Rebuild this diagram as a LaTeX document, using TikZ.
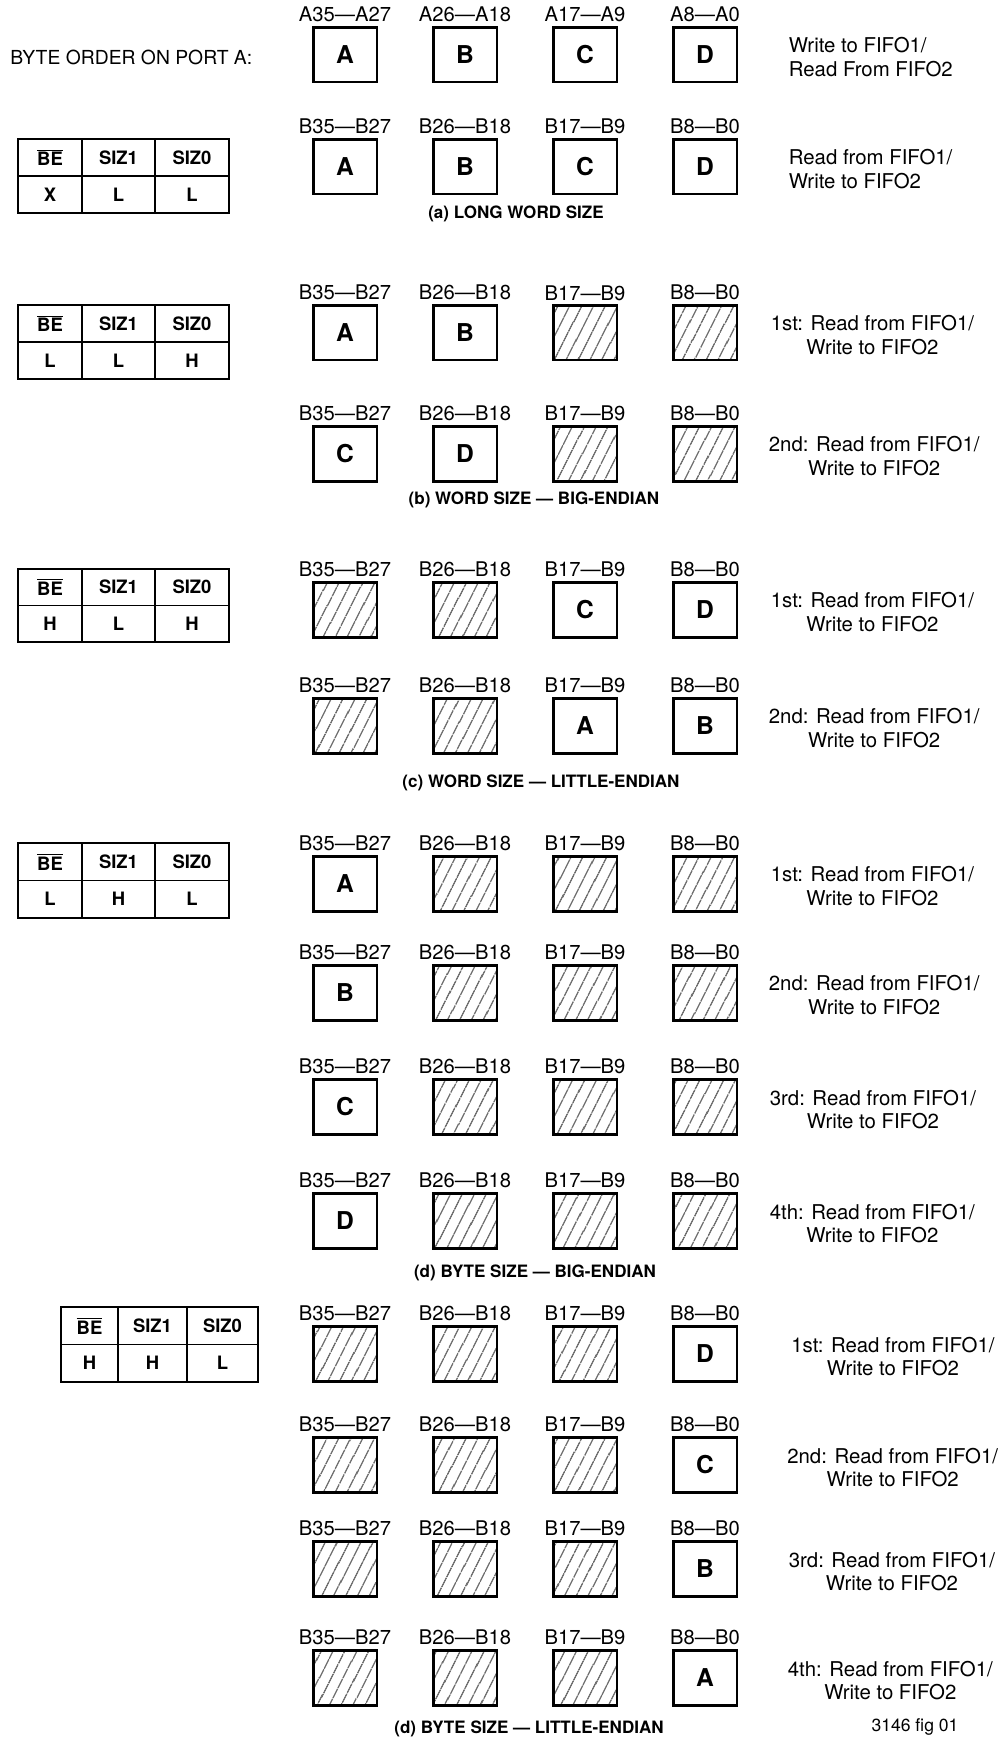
\documentclass[tikz,border=0pt]{standalone}
\usepackage{fontspec}
\setmainfont{TeX Gyre Heros}
\usepackage{tikz}
\usetikzlibrary{positioning,patterns.meta}

\newcommand{\nBE}{$\overline{\mbox{BE}}$}

\begin{document}
\begin{tikzpicture}[
    x=0.02cm, y=-0.02cm,
    byte/.style={draw, line width=1.7pt, minimum width=1.28cm,
                 minimum height=1.1cm, inner sep=0pt,
                 font=\fontsize{14}{14}\selectfont\bfseries},
    pad/.style={byte, pattern={Lines[angle=63,distance=6.5pt,line width=0.6pt]},
                pattern color=black!85},
    pins/.style={inner sep=0pt, font=\fontsize{11.5}{12}\selectfont},
    note/.style={inner sep=0pt, align=center,
                 font=\fontsize{11.6}{13.6}\selectfont},
    subcap/.style={inner sep=0pt, font=\fontsize{9.7}{11}\selectfont\bfseries},
    tblline/.style={line width=0.7pt},
    tblcell/.style={inner sep=0pt, font=\fontsize{10.5}{12}\selectfont\bfseries},
  ]
    \useasboundingbox (0,0) rectangle (1003,1739);

    % ---- Byte lanes: one row per transfer ----
    \foreach \r/\yy/\pre/\cont in {
        a1/27/A/{byte/A,byte/B,byte/C,byte/D},
        a2/139/B/{byte/A,byte/B,byte/C,byte/D},
        b1/305/B/{byte/A,byte/B,pad/,pad/},
        b2/426/B/{byte/C,byte/D,pad/,pad/},
        c1/582/B/{pad/,pad/,byte/C,byte/D},
        c2/698/B/{pad/,pad/,byte/A,byte/B},
        d1/856/B/{byte/A,pad/,pad/,pad/},
        d2/965/B/{byte/B,pad/,pad/,pad/},
        d3/1079/B/{byte/C,pad/,pad/,pad/},
        d4/1193/B/{byte/D,pad/,pad/,pad/},
        e1/1326/B/{pad/,pad/,pad/,byte/D},
        e2/1437/B/{pad/,pad/,pad/,byte/C},
        e3/1541/B/{pad/,pad/,pad/,byte/B},
        e4/1650/B/{pad/,pad/,pad/,byte/A}}{
      \foreach \s/\c [count=\i] in \cont {
        \pgfmathtruncatemacro\xx{{345,465,585,705}[\i-1]}
        \pgfmathtruncatemacro\hi{{35,26,17,8}[\i-1]}
        \pgfmathtruncatemacro\lo{{27,18,9,0}[\i-1]}
        \node[\s] (\r\i) at (\xx,{\yy+27.5}) {\c};
        \node[pins, above=0.06cm of \r\i] (l\r\i) {\pre\hi—\pre\lo};
      }
    }

    % ---- Transfer notes on the right ----
    \node[note, align=left, right=1cm of a14, yshift=-0.06cm] (ta1)
      {Write to FIFO1/\\Read From FIFO2};
    \node[note, align=left, right=1cm of a24, yshift=-0.06cm] (ta2)
      {Read from FIFO1/\\Write to FIFO2};
    \foreach \r/\nth/\gap in {b1/1st/0.64, b2/2nd/0.6, c1/1st/0.64,
        c2/2nd/0.6, d1/1st/0.64, d2/2nd/0.6, d3/3rd/0.62, d4/4th/0.62,
        e1/1st/1.05, e2/2nd/0.97, e3/3rd/1.0, e4/4th/0.98}
      \node[note, right=\gap cm of \r4, yshift=-0.06cm] (t\r)
        {\nth: Read from FIFO1/\\Write to FIFO2};

    % ---- Control input tables ----
    \foreach \t/\ty/\by/\xa/\xb/\xc/\xd/\va/\vb/\vc in {
        ta/139/213/18/82/155/229/X/L/L,
        tb/305/379/18/82/155/229/L/L/H,
        tc/569/642/18/82/155/229/H/L/H,
        td/843/918/18/82/155/229/L/H/L,
        te/1307/1382/61/118/187/258/H/H/L}{
      \draw[tblline] (\xa,\ty) rectangle (\xd,\by);
      \draw[tblline] (\xa,{(\ty+\by)/2}) -- (\xd,{(\ty+\by)/2});
      \draw[tblline] (\xb,\ty) -- (\xb,\by) (\xc,\ty) -- (\xc,\by);
      \node[tblcell] (\t-be) at ({(\xa+\xb)/2},{(3*\ty+\by)/4}) {\nBE};
      \node[tblcell] (\t-s1) at ({(\xb+\xc)/2},{(3*\ty+\by)/4}) {SIZ1};
      \node[tblcell] (\t-s0) at ({(\xc+\xd)/2},{(3*\ty+\by)/4}) {SIZ0};
      \node[tblcell] (\t-vbe) at ({(\xa+\xb)/2},{(\ty+3*\by)/4}) {\va};
      \node[tblcell] (\t-vs1) at ({(\xb+\xc)/2},{(\ty+3*\by)/4}) {\vb};
      \node[tblcell] (\t-vs0) at ({(\xc+\xd)/2},{(\ty+3*\by)/4}) {\vc};
    }

    % ---- Captions ----
    \node[pins, anchor=west, font=\fontsize{11}{12}\selectfont] (port)
      at (10,57) {BYTE ORDER ON PORT A:};
    \node[subcap] (capa) at (516,214) {(a) LONG WORD SIZE};
    \node[subcap] (capb) at (534,500) {(b) WORD SIZE — BIG-ENDIAN};
    \node[subcap] (capc) at (541,783) {(c) WORD SIZE — LITTLE-ENDIAN};
    \node[subcap] (capd) at (535,1273) {(d) BYTE SIZE — BIG-ENDIAN};
    \node[subcap] (cape) at (529,1729) {(d) BYTE SIZE — LITTLE-ENDIAN};
    \node[pins, font=\fontsize{10}{12}\selectfont] (fig) at (915,1727)
      {3146 fig 01};
\end{tikzpicture}
\end{document}
